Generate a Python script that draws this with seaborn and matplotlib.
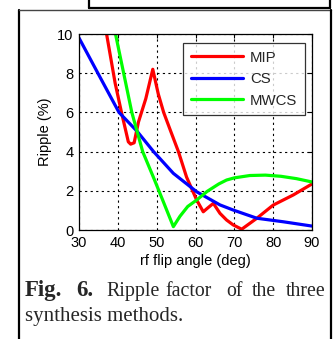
import numpy as np
import pandas as pd
import matplotlib
matplotlib.use("Agg")
import matplotlib.pyplot as plt
from matplotlib.lines import Line2D
import seaborn as sns

# ---- data ----
mip_x = [37.1, 39.3, 41.0, 42.7, 43.3, 44.2, 45.3, 47.2, 49.0, 50.4, 51.8, 53.5, 55.6,
         57.7, 60.3, 62.0, 63.0, 64.6, 66.3, 68.0, 69.7, 71.9, 75.8, 80.0, 85.2, 90.0]
mip_y = [10.0, 7.5, 5.95, 4.5, 4.38, 4.45, 5.5, 6.7, 8.2, 6.95, 6.0, 5.1, 4.0,
         2.7, 1.53, 0.93, 1.1, 1.36, 0.85, 0.51, 0.26, 0.04, 0.6, 1.27, 1.79, 2.35]

cs_x = [30.0, 35.0, 40.3, 44.9, 49.2, 54.3, 60.3, 66.3, 69.7, 75.8, 82.6, 90.0]
cs_y = [9.8, 7.95, 6.0, 5.05, 4.0, 2.89, 1.95, 1.28, 1.02, 0.6, 0.42, 0.2]

mwcs_x = [39.4, 41.5, 43.6, 46.4, 49.1, 51.5, 54.3, 56.0, 58.0, 60.3, 63.0, 66.0,
          68.0, 70.0, 74.0, 78.0, 82.0, 86.0, 90.0]
mwcs_y = [10.0, 8.0, 6.0, 4.0, 2.72, 1.55, 0.17, 0.7, 1.2, 1.53, 1.97, 2.35,
          2.55, 2.66, 2.78, 2.8, 2.74, 2.62, 2.45]

series_names = ["MIP", "CS", "MWCS"]
series_colors = ["#ff0000", "#0000ff", "#00ff00"]
x_ticks = [30, 40, 50, 60, 70, 80, 90]
y_ticks = [0, 2, 4, 6, 8, 10]
x_label = "rf flip angle (deg)"
y_label = "Ripple (%)"

df = pd.concat([
    pd.DataFrame({"angle": mip_x, "ripple": mip_y, "method": "MIP"}),
    pd.DataFrame({"angle": cs_x, "ripple": cs_y, "method": "CS"}),
    pd.DataFrame({"angle": mwcs_x, "ripple": mwcs_y, "method": "MWCS"}),
], ignore_index=True)

sns.set_theme(style="white")
plt.rcParams["font.family"] = ["Liberation Sans", "DejaVu Sans"]

W, H = 336, 339
fig = plt.figure(figsize=(W / 100, H / 100), dpi=100)
fig.patch.set_facecolor("white")

def fx(px):
    return px / W

def fy(py):
    return 1 - py / H

ax = fig.add_axes([fx(79), fy(230), (312 - 79) / W, (230 - 34) / H])
sns.lineplot(data=df, x="angle", y="ripple", hue="method", hue_order=series_names,
             palette=series_colors, sort=False, estimator=None, linewidth=2.3, ax=ax)

ax.set_xlim(30, 90)
ax.set_ylim(0, 10)
ax.set_xticks(x_ticks)
ax.set_yticks(y_ticks)
ax.set_xticklabels([str(t) for t in x_ticks])
ax.set_yticklabels([str(t) for t in y_ticks])
ax.grid(True, color="black", linestyle=(0, (2, 3)), linewidth=0.8)
for s in ax.spines.values():
    s.set_color("black")
    s.set_linewidth(0.9)
ax.tick_params(direction="in", length=3, width=0.8, top=True, right=True,
               labelsize=10.5, colors="black", pad=4)
ax.set_xlabel(x_label, fontsize=10.5, labelpad=3, color="black")
ax.set_ylabel(y_label, fontsize=10.5, labelpad=4, color="black")

leg = ax.legend(loc="upper right", bbox_to_anchor=(0.97, 0.953), borderaxespad=0,
                fontsize=10.8, frameon=True, fancybox=False, edgecolor="black",
                handlelength=3.5, handletextpad=0.45, labelspacing=0.5,
                borderpad=0.5, title=None)
leg.get_frame().set_linewidth(0.9)
for h in leg.get_lines():
    h.set_linewidth(2.3)

# ---- page decorations (frames) ----
lw = 1.6
fig.add_artist(Line2D([fx(19), fx(19)], [fy(9.5), fy(339)], color="black", lw=lw, transform=fig.transFigure))
fig.add_artist(Line2D([fx(19), fx(331)], [fy(9.5), fy(9.5)], color="#444444", lw=1.0, transform=fig.transFigure))
fig.add_artist(Line2D([fx(331), fx(331)], [fy(9.5), fy(339)], color="black", lw=lw, transform=fig.transFigure))
fig.add_artist(Line2D([fx(89), fx(89)], [fy(0), fy(7.5)], color="black", lw=lw, transform=fig.transFigure))
fig.add_artist(Line2D([fx(89), fx(330)], [fy(7.5), fy(7.5)], color="black", lw=lw, transform=fig.transFigure))
fig.add_artist(Line2D([fx(330), fx(330)], [fy(0), fy(7.5)], color="black", lw=lw, transform=fig.transFigure))

# ---- caption ----
serif = ["Liberation Serif", "DejaVu Serif"]
fig.text(fx(25), fy(296), "Fig.", fontsize=16.5, fontweight="bold", family=serif,
         va="baseline", ha="left")
fig.text(fx(76.5), fy(296), "6.", fontsize=16.5, fontweight="bold", family=serif,
         va="baseline", ha="left")
words = ["Ripple", "factor", "of", "the", "three"]
word_x = [106, 165.5, 226, 252, 286]
for w, x in zip(words, word_x):
    fig.text(fx(x), fy(296), w, fontsize=14.3, family=serif, va="baseline", ha="left")
fig.text(fx(25), fy(321), "synthesis methods.", fontsize=15, family=serif,
         va="baseline", ha="left")

fig.savefig("out.png", dpi=100, facecolor="white")
